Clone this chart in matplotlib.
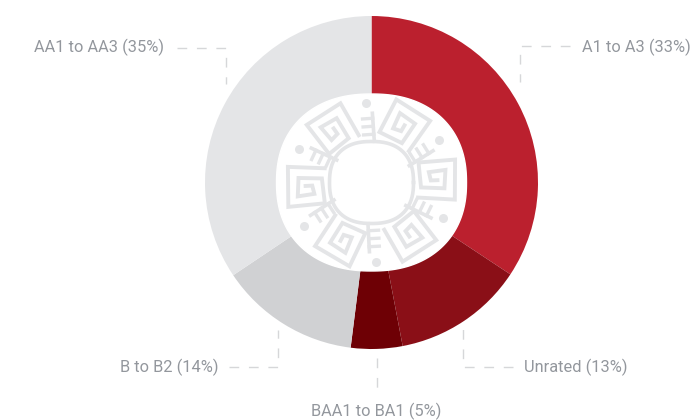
"""Donut chart of portfolio ratings with decorative centre motif."""

import numpy as np
from matplotlib import pyplot as plt

W, H = 693, 420

ratings = ["A1 to A3", "Unrated", "BAA1 to BA1", "B to B2", "AA1 to AA3"]
labelled_pct = [33, 13, 5, 14, 35]
slice_sizes = [34.3, 12.7, 5.0, 13.6, 34.4]
slice_colors = ["#bb202e", "#8a0f17", "#6e0005", "#d0d1d3", "#e4e5e7"]

TEXT = "#93979d"
DASH = "#d6d7d9"
MOTIF = "#e4e5e7"
CX, CY = 371.5, 182.5

# label anchor (x, y in px from top), alignment, leader line vertices
label_pos = [
    (691, 47, "right", [(570, 46), (520, 46), (520, 82)]),
    (628, 367, "right", [(513, 367), (463, 367), (463, 328)]),
    (376.5, 411, "center", [(377, 358), (377, 396)]),
    (218, 367, "right", [(229, 367), (278, 367), (278, 330)]),
    (164, 47, "right", [(177, 48), (226, 48), (226, 84)]),
]

# motif shapes, local coords: u = radial, v = tangential
spiral = np.array([(-60, -50), (50, -60), (55, 60), (-55, 55), (-50, -20),
                   (20, -25), (25, 30), (-25, 25), (-20, 0), (0, 0)]) / 3.0
spiral_angles = [2, 60, 125, 183, 242, 305]
ladder_angles = [-26, 32, 94, 155, 213, 273]


def to_y(py):
    return H - py


def polar_place(points, angle, radius):
    a = np.radians(angle)
    u = points[:, 0] + radius
    v = points[:, 1]
    x = CX + u * np.cos(a) - v * np.sin(a)
    y = to_y(CY) + u * np.sin(a) + v * np.cos(a)
    return x, y


def blob(a, b, n):
    t = np.linspace(0, 2 * np.pi, 240)
    x = CX + a * np.sign(np.cos(t)) * np.abs(np.cos(t)) ** (2 / n)
    y = to_y(CY) + b * np.sign(np.sin(t)) * np.abs(np.sin(t)) ** (2 / n)
    return x, y


plt.rcParams["font.family"] = ["Roboto", "DejaVu Sans"]
fig = plt.figure(figsize=(W / 100, H / 100), dpi=100)
ax = fig.add_axes([0, 0, 1, 1])

ax.pie(slice_sizes, colors=slice_colors, startangle=90, counterclock=False,
       center=(CX, to_y(CY)), radius=166.5, wedgeprops={"linewidth": 0})
ax.set_xlim(0, W)
ax.set_ylim(0, H)
ax.set_axis_off()

# white centre
x, y = blob(95, 88.5, 2.25)
ax.fill(x, y, color="white", zorder=3)

# motif
x, y = blob(42, 41, 2.4)
ax.plot(x, y, color=MOTIF, lw=2.6, zorder=4)
for ang in spiral_angles:
    x, y = polar_place(spiral, ang, 66)
    ax.plot(x, y, color=MOTIF, lw=2.8, solid_joinstyle="miter", zorder=4)
for ang in ladder_angles:
    bar = np.array([(41, -5.7), (69, -5.7)])
    x, y = polar_place(bar, ang, 0)
    ax.plot(x, y, color=MOTIF, lw=2.6, zorder=4)
    for r in (48, 56, 64):
        rung = np.array([(r, -5.7), (r, 4.5)])
        x, y = polar_place(rung, ang, 0)
        ax.plot(x, y, color=MOTIF, lw=2.4, zorder=4)
    x, y = polar_place(np.array([(0.0, 0.0)]), ang, 80)
    ax.plot(x, y, "o", color=MOTIF, ms=6.5, mew=0, zorder=4)

# labels and leader lines
for name, pct, (lx, ly, ha, leader) in zip(ratings, labelled_pct, label_pos):
    ax.text(lx, to_y(ly), f"{name} ({pct}%)", ha=ha, va="center",
            color=TEXT, fontsize=11.8)
    pts = np.array(leader, dtype=float)
    ax.plot(pts[:, 0], to_y(pts[:, 1]), color=DASH, lw=1.0,
            dashes=(7, 7), zorder=1)

fig.savefig("out.png", dpi=100)
plt.close(fig)
